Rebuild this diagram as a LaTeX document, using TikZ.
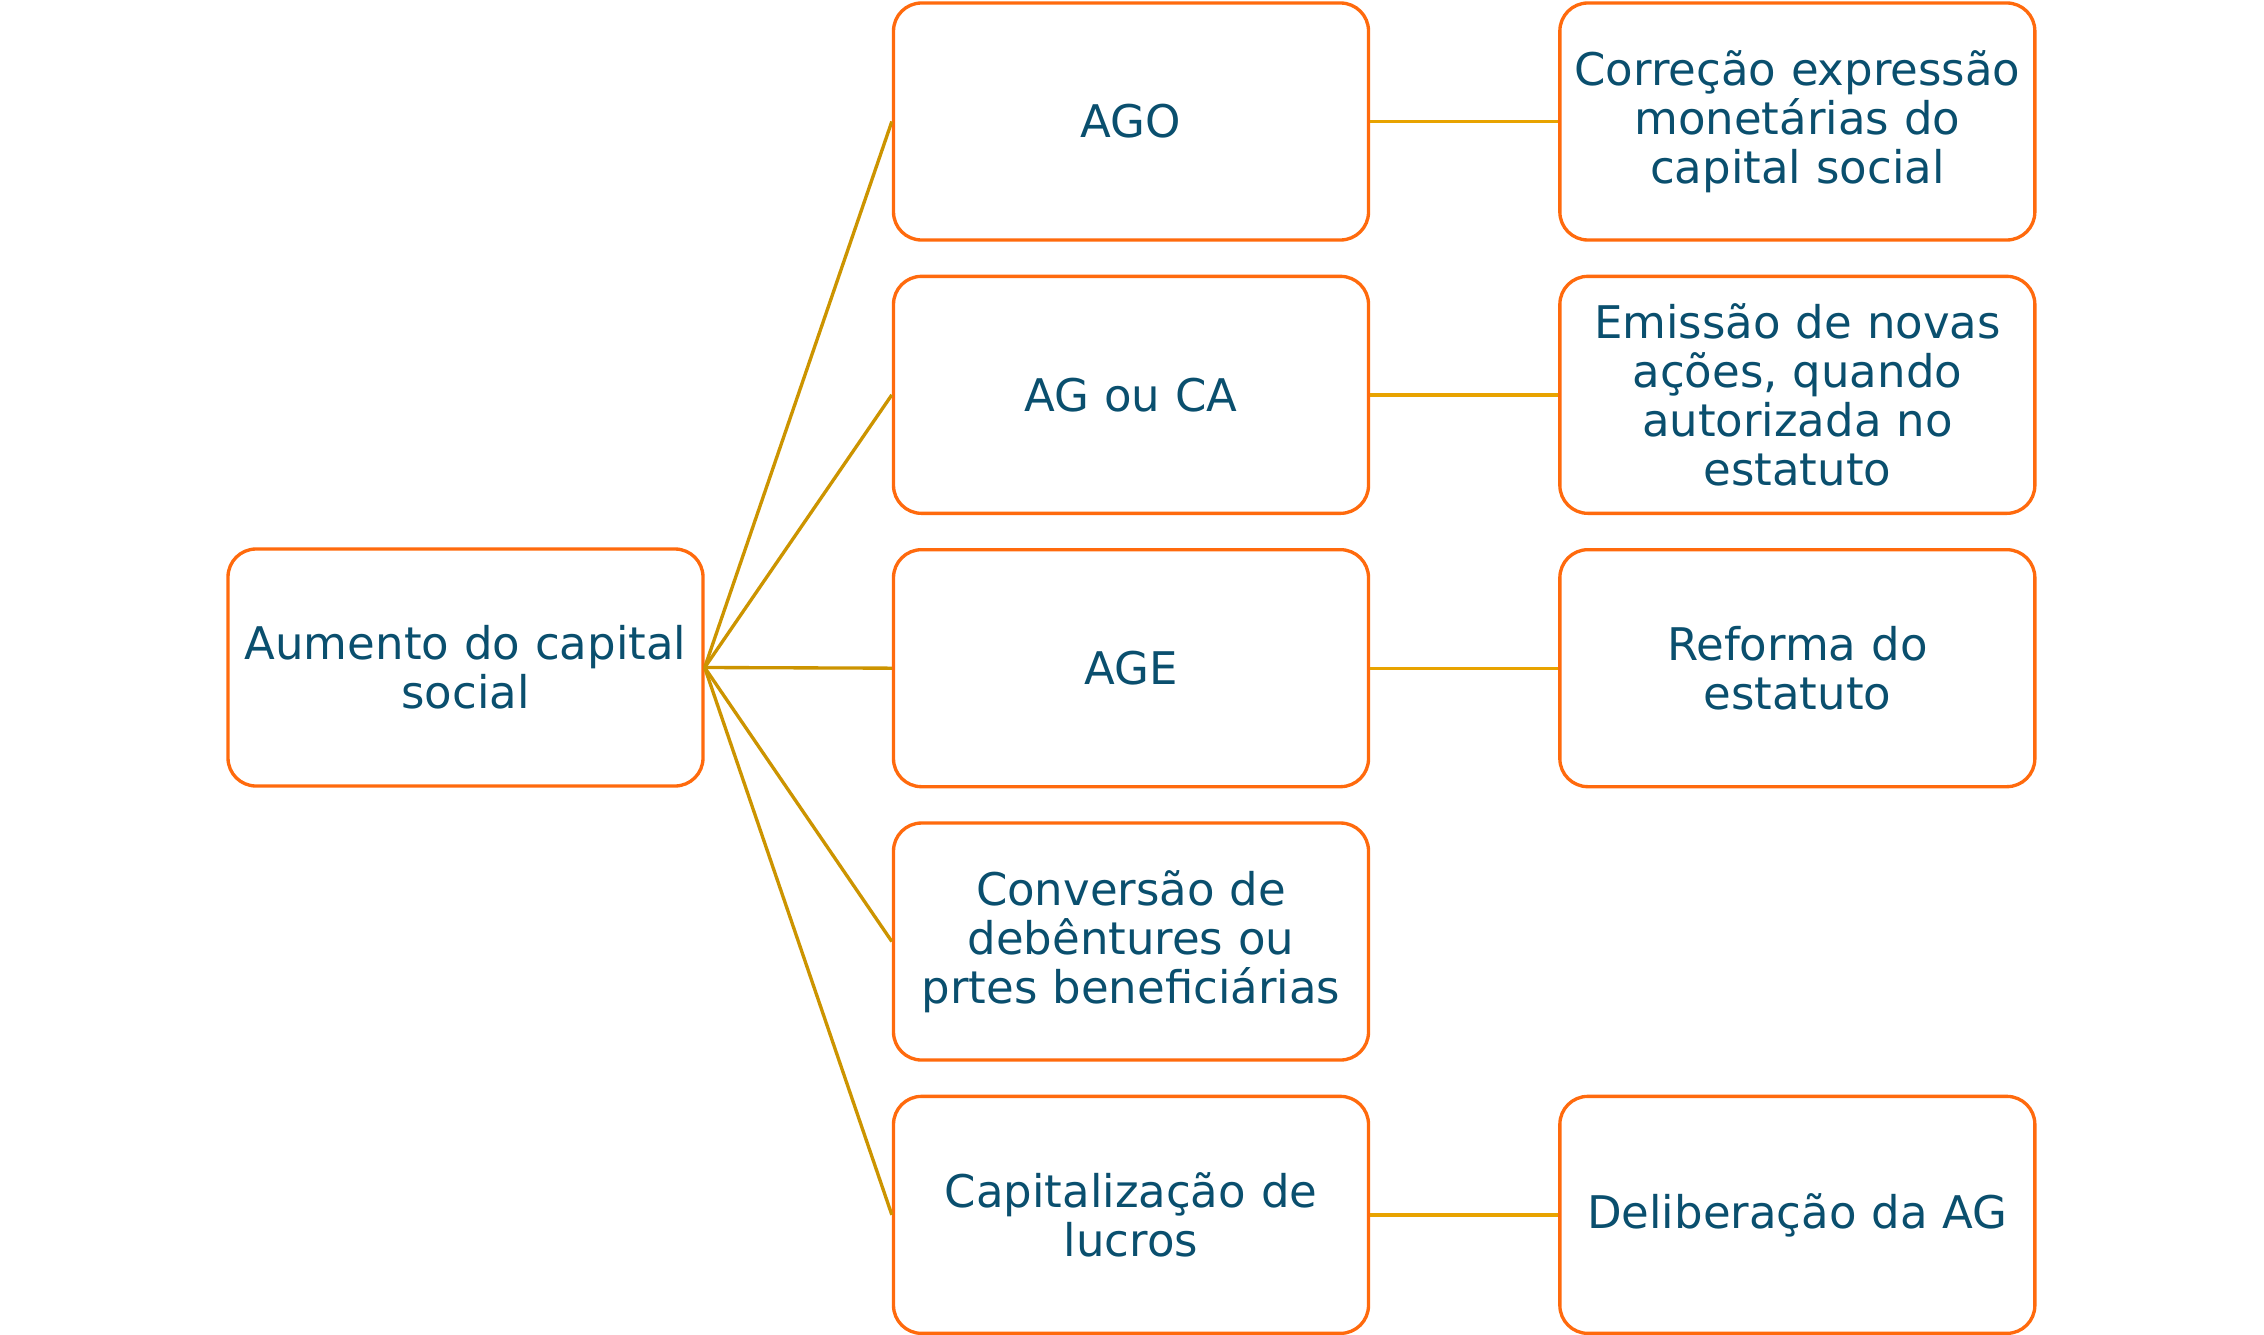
\documentclass[tikz,border=0pt]{standalone}
\usepackage{fontspec}
\setmainfont{DejaVu Sans}
\definecolor{CAPorange}{HTML}{FF6A0D}
\definecolor{CAPnavy}{HTML}{0A4F6E}
\definecolor{CAPgold}{HTML}{CC9400}
\definecolor{CAPamber}{HTML}{E8A300}
\usetikzlibrary{positioning}

\tikzset{
   capbox/.style={draw=CAPorange, line width=0.95pt, rounded corners=0.28cm, fill=white,
      minimum width=4.75cm, minimum height=2.37cm, inner sep=0pt, text width=4.7cm,
      align=center, text=CAPnavy, font=\fontsize{12.8}{13.9}\selectfont},
   rootlink/.style={CAPgold, line width=0.95pt},
   sidelink/.style={CAPamber, line width=0.95pt}
}

\begin{document}
\begin{tikzpicture}
            \useasboundingbox (0,0) rectangle (22.64,-13.34);
            % Root
            \node[capbox] (root) at (4.655,-6.675) {Aumento do capital\\social};
            % Middle column
            \node[capbox] (ago) at (11.31,-1.215) {AGO};
            \node[capbox, below=0.33cm of ago] (agca) {AG ou CA};
            \node[capbox, below=0.33cm of agca] (age) {AGE};
            \node[capbox, below=0.33cm of age] (conv) {Conversão de\\debêntures ou\\prtes beneficiárias};
            \node[capbox, below=0.33cm of conv] (lucros) {Capitalização de\\lucros};
            % Right column
            \node[capbox, right=1.88cm of ago] (correcao) {Correção expressão\\monetárias do\\capital social};
            \node[capbox, right=1.88cm of agca] (emissao) {Emissão de novas\\ações, quando\\autorizada no\\estatuto};
            \node[capbox, right=1.88cm of age] (reforma) {Reforma do\\estatuto};
            \node[capbox, right=1.88cm of lucros] (delib) {Deliberação da AG};
            % Links from root
            \foreach \n in {ago, agca, age, conv, lucros}
               \draw[rootlink] (root.east) -- (\n.west);
            % Links to the right column
            \draw[sidelink] (ago.east) -- (correcao.west);
            \draw[sidelink] (agca.east) -- (emissao.west);
            \draw[sidelink] (age.east) -- (reforma.west);
            \draw[sidelink] (lucros.east) -- (delib.west);
         \end{tikzpicture}
\end{document}
